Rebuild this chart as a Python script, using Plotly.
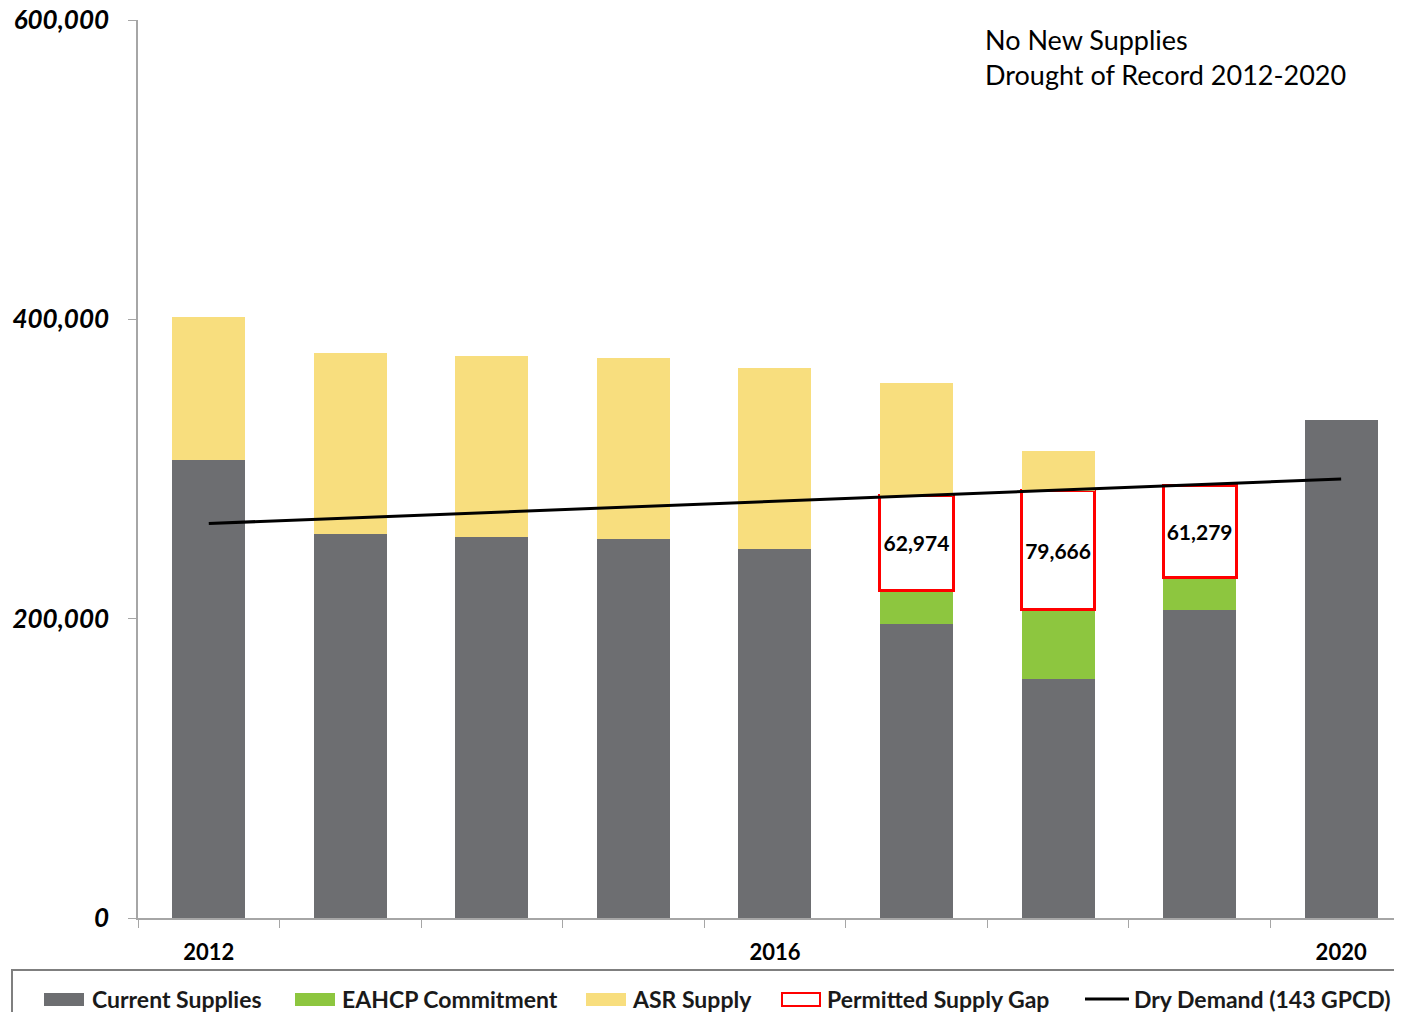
import plotly.graph_objects as go

years = ["2012", "2013", "2014", "2015", "2016", "2017", "2018", "2019", "2020"]
tick_text = ["2012", "", "", "", "2016", "", "", "", "2020"]
current_supplies = [306000, 256600, 254600, 253200, 246500, 196400, 159700, 205800, 332700]
eahcp = [None, None, None, None, None, 22700, 46100, 22000, None]
gap = [None, None, None, None, None, 62974, 79666, 61279, None]
asr = [95500, 120900, 120900, 121000, 121000, 75400, 26500, None, None]
dry_demand = [263600, 267300, 271000, 274700, 278400, 282100, 285500, 289100, 293300]

FONT = "Lato"
GRAY = "#6D6E71"
GREEN = "#8DC63F"
YELLOW = "#F8DE7E"
RED = "#FF0000"

fig = go.Figure()
fig.add_trace(go.Bar(x=years, y=current_supplies, name="Current Supplies",
                     marker=dict(color=GRAY, line=dict(width=0))))
fig.add_trace(go.Bar(x=years, y=eahcp, name="EAHCP Commitment",
                     marker=dict(color=GREEN, line=dict(width=0))))
fig.add_trace(go.Bar(x=years, y=gap, name="Permitted Supply Gap",
                     marker=dict(color="white", line=dict(color=RED, width=3)),
                     text=[f"{v:,}" if v else "" for v in gap],
                     textposition="inside", insidetextanchor="middle",
                     textfont=dict(family=FONT, size=21, color="black", weight="bold"),
                     textangle=0))
fig.add_trace(go.Bar(x=years, y=asr, name="ASR Supply",
                     marker=dict(color=YELLOW, line=dict(width=0))))
fig.add_trace(go.Scatter(x=years, y=dry_demand, name="Dry Demand (143 GPCD)",
                         mode="lines", line=dict(color="black", width=3)))

OFF = 8  # page body margin
W, H = 1402 - OFF, 1004
L, R, T = 138 - OFF, 0, 20 - OFF
ph = 898
B = H - T - ph
pw = W - L - R

def px(x):
    return (x - OFF - L) / pw

def py(y):
    return (OFF + T + ph - y) / ph

shapes = []
annotations = []
# legend box
shapes.append(dict(type="rect", xref="paper", yref="paper",
                   x0=px(12), x1=px(1401), y0=py(1030), y1=py(970),
                   line=dict(color="#7F7F7F", width=2), fillcolor="rgba(0,0,0,0)"))
legend_items = [
    ("rect", 44, GRAY, "Current Supplies", 90),
    ("rect", 295, GREEN, "EAHCP Commitment", 340),
    ("rect", 586, YELLOW, "ASR Supply", 630),
    ("box", 781, RED, "Permitted Supply Gap", 825),
    ("line", 1085, "black", "Dry Demand (143 GPCD)", 1132),
]
for kind, x0, col, label, tx in legend_items:
    if kind == "rect":
        shapes.append(dict(type="rect", xref="paper", yref="paper",
                           x0=px(x0), x1=px(x0 + 40), y0=py(1006), y1=py(993),
                           fillcolor=col, line=dict(width=0)))
    elif kind == "box":
        shapes.append(dict(type="rect", xref="paper", yref="paper",
                           x0=px(x0 + 1), x1=px(x0 + 39), y0=py(1006), y1=py(993),
                           fillcolor="white", line=dict(color=col, width=2)))
    else:
        shapes.append(dict(type="line", xref="paper", yref="paper",
                           x0=px(x0), x1=px(x0 + 44), y0=py(999), y1=py(999),
                           line=dict(color=col, width=3)))
    annotations.append(dict(xref="paper", yref="paper", x=px(tx), y=py(999),
                            xanchor="left", yanchor="middle", showarrow=False,
                            text=label,
                            font=dict(family=FONT, size=23, color="#1a1a1a", weight="bold")))

annotations.append(dict(xref="paper", yref="paper", x=px(983), y=py(21),
                        xanchor="left", yanchor="top", showarrow=False, align="left",
                        text="No New Supplies<br>Drought of Record 2012-2020",
                        font=dict(family=FONT, size=27, color="black")))

fig.update_layout(
    width=W, height=H,
    margin=dict(l=L, r=R, t=T, b=B, pad=0),
    template="none",
    barmode="stack",
    bargap=0.484,
    showlegend=False,
    plot_bgcolor="white", paper_bgcolor="white",
    font=dict(family=FONT, color="black"),
    shapes=shapes,
    annotations=annotations,
    uniformtext=dict(mode=False),
)
fig.update_xaxes(type="category", range=[-0.5, 8.43],
                 tickvals=years, ticktext=tick_text,
                 tickson="boundaries", ticks="outside", ticklen=8, tickcolor="#A6A6A6",
                 showline=True, linecolor="#A6A6A6", linewidth=1.5, showgrid=False,
                 zeroline=False, ticklabelstandoff=14,
                 tickfont=dict(family=FONT, size=22, color="black", weight="bold"))
fig.update_yaxes(range=[0, 600000], dtick=200000, tickformat=",",
                 ticks="outside", ticklen=8, tickcolor="#A6A6A6",
                 showline=True, linecolor="#A6A6A6", linewidth=1.5, showgrid=False,
                 zeroline=False, ticklabelstandoff=14, ticklabeloverflow="allow",
                 tickfont=dict(family=FONT, size=26, color="black", weight="bold", style="italic"))

fig.write_html("out.html")
